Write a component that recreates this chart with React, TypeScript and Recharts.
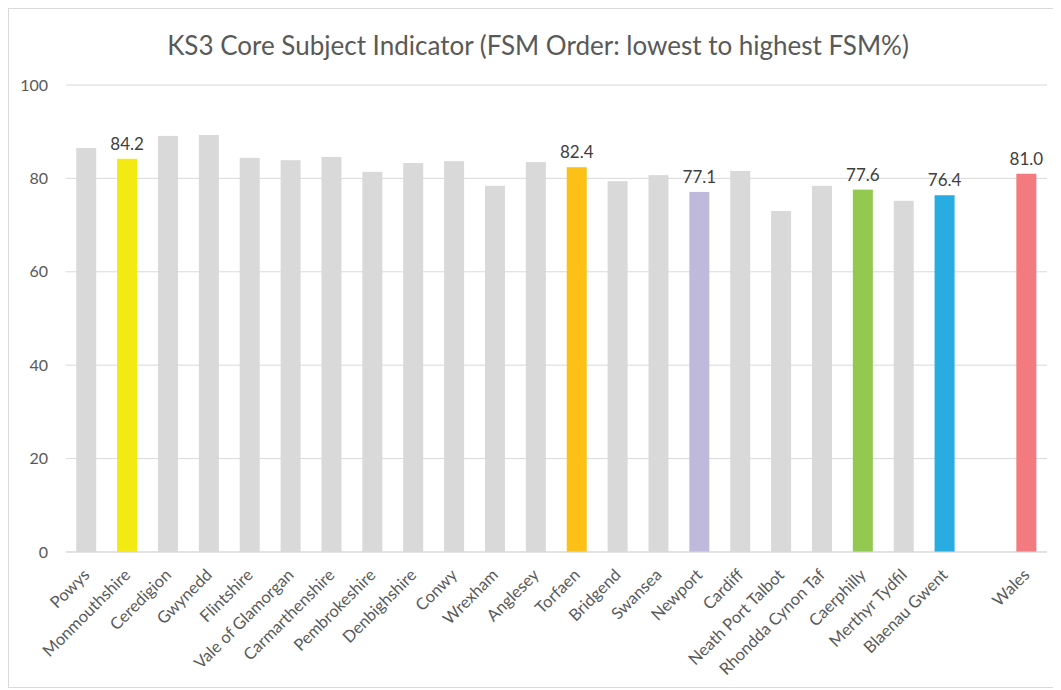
import React from 'react'
import { BarChart, Bar, XAxis, YAxis, CartesianGrid, LabelList } from 'recharts'

const areas = [
  'Powys', 'Monmouthshire', 'Ceredigion', 'Gwynedd', 'Flintshire', 'Vale of Glamorgan',
  'Carmarthenshire', 'Pembrokeshire', 'Denbighshire', 'Conwy', 'Wrexham', 'Anglesey',
  'Torfaen', 'Bridgend', 'Swansea', 'Newport', 'Cardiff', 'Neath Port Talbot',
  'Rhondda Cynon Taf', 'Caerphilly', 'Merthyr Tydfil', 'Blaenau Gwent', '', 'Wales',
]
const scores = [
  86.5, 84.2, 89.1, 89.3, 84.4, 83.9, 84.6, 81.4, 83.3, 83.7, 78.4, 83.5,
  82.4, 79.4, 80.7, 77.1, 81.6, 73.0, 78.4, 77.6, 75.2, 76.4, null, 81.0,
]
// highlighted areas get their own colour and a value label
const highlights: Record<string, string> = {
  Monmouthshire: '#F2EA12',
  Torfaen: '#FCC016',
  Newport: '#BFBADC',
  Caerphilly: '#93C851',
  'Blaenau Gwent': '#29ACE2',
  Wales: '#F37B80',
}
const yTicks = [0, 20, 40, 60, 80, 100]

const data = areas.map((name, i) => ({
  name,
  value: scores[i],
  color: highlights[name] ?? '#D9D9D9',
  label: highlights[name] && scores[i] != null ? (scores[i] as number).toFixed(1) : '',
}))

const FONT = 'Lato, "Open Sans", sans-serif'

// eslint-disable-next-line @typescript-eslint/no-explicit-any
const AreaTick = ({ x, y, payload }: any) => (
  <text
    transform={`translate(${x + 4},${y + 16}) rotate(-45)`}
    textAnchor="end"
    fontSize={16.5}
    fill="#595959"
    fontFamily={FONT}
  >
    {payload.value}
  </text>
)

// eslint-disable-next-line @typescript-eslint/no-explicit-any
const BarShape = ({ x, y, width, height, payload }: any) => {
  if (!height) return null
  return <rect x={x} y={y} width={width} height={height} fill={payload.color} />
}

export default function App() {
  return (
    <div style={{ position: 'relative', width: 1051, height: 678, border: '1px solid #d9d9d9', background: '#fff' }}>
      <div
        style={{
          position: 'absolute', top: 20, left: 0, width: 1058, textAlign: 'center',
          fontSize: 26, color: '#595959', fontFamily: FONT,
        }}
      >
        KS3 Core Subject Indicator (FSM Order: lowest to highest FSM%)
      </div>
      <BarChart
        width={1051}
        height={678}
        data={data}
        margin={{ top: 76, right: 13, bottom: 0, left: 0 }}
        barCategoryGap="25%"
      >
        <CartesianGrid vertical={false} stroke="#d9d9d9" />
        <XAxis
          dataKey="name"
          interval={0}
          tick={<AreaTick />}
          tickLine={false}
          axisLine={{ stroke: '#d9d9d9' }}
          height={135}
        />
        <YAxis
          domain={[0, 100]}
          ticks={yTicks}
          width={57}
          tickMargin={12}
          axisLine={false}
          tickLine={false}
          tick={{ fontSize: 16, fill: '#595959', fontFamily: FONT }}
        />
        <Bar dataKey="value" isAnimationActive={false} shape={<BarShape />}>
          <LabelList
            dataKey="label"
            position="top"
            offset={9}
            fontSize={17}
            fill="#404040"
            fontFamily={FONT}
          />
        </Bar>
      </BarChart>
    </div>
  )
}
